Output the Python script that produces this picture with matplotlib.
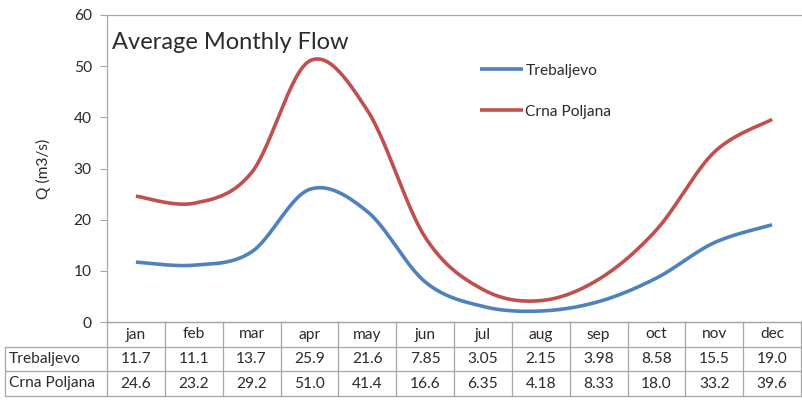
import numpy as np
import matplotlib.pyplot as plt
from matplotlib.lines import Line2D

plt.rcParams['font.family'] = ['Lato', 'DejaVu Sans']

months = ['jan', 'feb', 'mar', 'apr', 'may', 'jun',
          'jul', 'aug', 'sep', 'oct', 'nov', 'dec']
trebaljevo = [11.7, 11.1, 13.7, 25.9, 21.6, 7.85, 3.05, 2.15, 3.98, 8.58, 15.5, 19.0]
crna_poljana = [24.6, 23.2, 29.2, 51.0, 41.4, 16.6, 6.35, 4.18, 8.33, 18.0, 33.2, 39.6]
trebaljevo_txt = ['11.7', '11.1', '13.7', '25.9', '21.6', '7.85', '3.05', '2.15', '3.98', '8.58', '15.5', '19.0']
crna_txt = ['24.6', '23.2', '29.2', '51.0', '41.4', '16.6', '6.35', '4.18', '8.33', '18.0', '33.2', '39.6']

blue = '#4F81BD'
red = '#C0504D'
grid_c = '#A6A6A6'
txt_c = '#2b2b2b'
fs = 11.2


def smooth(x, y, n=30):
    # excel-like smoothing: bezier with catmull-rom control points
    x = np.asarray(x, float)
    y = np.asarray(y, float)
    P = np.column_stack([x, y])
    out = []
    for i in range(len(P) - 1):
        p0 = P[max(i - 1, 0)]
        p1 = P[i]
        p2 = P[i + 1]
        p3 = P[min(i + 2, len(P) - 1)]
        c1 = p1 + (p2 - p0) / 6
        c2 = p2 - (p3 - p1) / 6
        t = np.linspace(0, 1, n)[:, None]
        seg = ((1 - t) ** 3) * p1 + 3 * ((1 - t) ** 2) * t * c1 + 3 * (1 - t) * t ** 2 * c2 + t ** 3 * p2
        out.append(seg if i == 0 else seg[1:])
    s = np.vstack(out)
    return s[:, 0], s[:, 1]


W, H = 802, 407
fig = plt.figure(figsize=(W / 100, H / 100), dpi=100)
x0, x1, ytop, ybot = 107, 801, 15, 322
ax = fig.add_axes([x0 / W, 1 - ybot / H, (x1 - x0) / W, (ybot - ytop) / H])

xs = np.arange(12) + 0.5
sx, sy = smooth(xs, trebaljevo)
ax.plot(sx, sy, color=blue, lw=2.6, solid_capstyle='butt', label='Trebaljevo')
sx, sy = smooth(xs, crna_poljana)
ax.plot(sx, sy, color=red, lw=2.6, solid_capstyle='butt', label='Crna Poljana')

ax.set_xlim(0, 12)
ax.set_ylim(0, 60)
ax.set_yticks(range(0, 61, 10))
ax.set_xticks([])
ax.tick_params(axis='y', length=5, width=0.8, color=grid_c, labelsize=fs,
               labelcolor=txt_c, pad=6)
for s in ['top', 'left', 'bottom']:
    ax.spines[s].set_color(grid_c)
    ax.spines[s].set_linewidth(0.9)
ax.spines['right'].set_visible(False)

ax.set_ylabel('Q (m3/s)', fontsize=fs, color=txt_c, labelpad=16)
ax.text(0.007, 0.912, 'Average Monthly Flow', transform=ax.transAxes,
        fontsize=17, color=txt_c, va='center', ha='left')

ax.legend(loc='center left', bbox_to_anchor=(0.538, 0.752), frameon=False,
          fontsize=fs, handlelength=2.75, handletextpad=0.15,
          labelspacing=1.75, borderpad=0, borderaxespad=0,
          labelcolor=txt_c)

# data table under the plot
rows_y = [322, 347, 371, 396]
tleft = 5


def fy(py):
    return 1 - py / H


def fx(px):
    return px / W


line_kw = dict(color=grid_c, lw=0.9, transform=fig.transFigure)
for i, py in enumerate(rows_y):
    xa = x0 if i == 0 else tleft
    fig.add_artist(Line2D([fx(xa), fx(x1)], [fy(py), fy(py)], **line_kw))
fig.add_artist(Line2D([fx(tleft), fx(tleft)], [fy(rows_y[1]), fy(rows_y[3])], **line_kw))
colw = (x1 - x0) / 12
for k in range(13):
    px = x0 + k * colw
    fig.add_artist(Line2D([fx(px), fx(px)], [fy(rows_y[0]), fy(rows_y[3])], **line_kw))

table_rows = [(None, months), ('Trebaljevo', trebaljevo_txt), ('Crna Poljana', crna_txt)]
for r, (label, cells) in enumerate(table_rows):
    cy = fy((rows_y[r] + rows_y[r + 1]) / 2)
    if label:
        fig.text(fx(tleft + 4), cy, label, ha='left', va='center',
                 fontsize=fs, color=txt_c)
    for k, c in enumerate(cells):
        fig.text(fx(x0 + (k + 0.5) * colw), cy, c, ha='center', va='center',
                 fontsize=fs, color=txt_c)

fig.savefig('out.png', dpi=100)
